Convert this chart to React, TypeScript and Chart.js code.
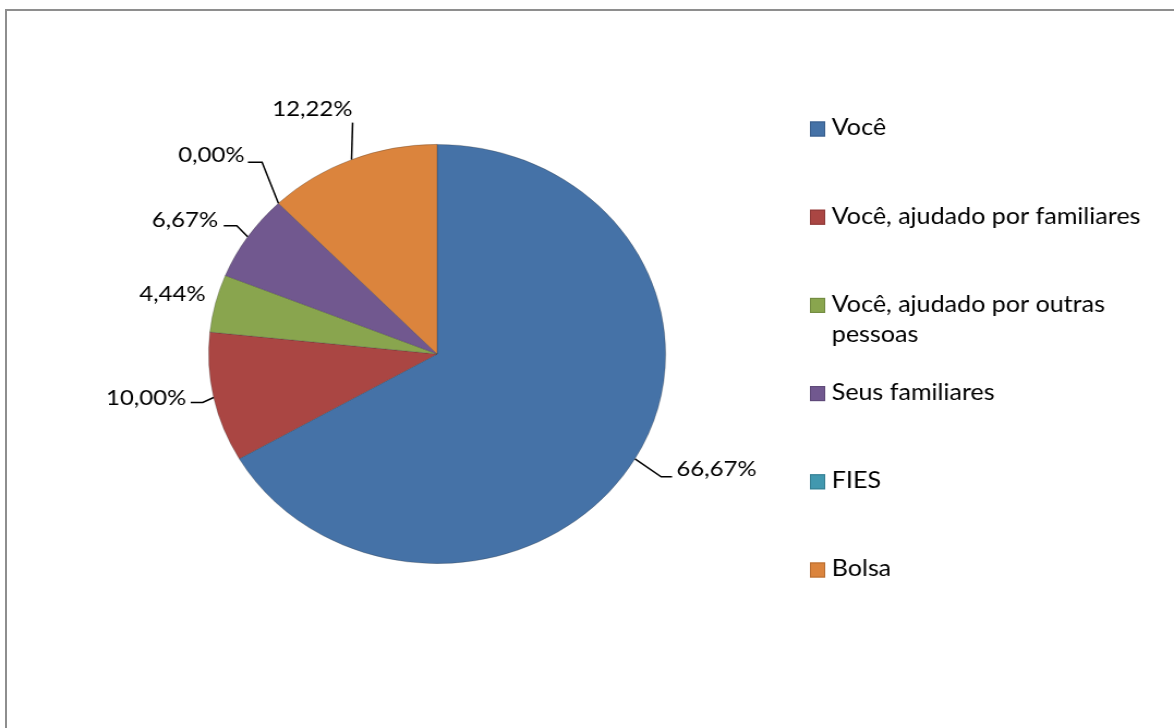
import React, { useEffect, useRef } from 'react';
import { Chart, registerables } from 'chart.js';

Chart.register(...registerables);

// ---- data ----
const categories = [
  'Você',
  'Você, ajudado por familiares',
  'Você, ajudado por outras pessoas',
  'Seus familiares',
  'FIES',
  'Bolsa',
];
const values = [66.67, 10.0, 4.44, 6.67, 0.0, 12.22];
const colors = ['#4572A7', '#AA4643', '#89A54E', '#71588F', '#4198AF', '#DB843D'];
const markerBorders = ['#3A5F8C', '#8E3A38', '#728A41', '#5E4977', '#367F92', '#B76E33'];

// ---- layout (style only) ----
const PAGE_W = 1174;
const PAGE_H = 728;
const STRETCH = 1.09;
const CANVAS_W = Math.round(PAGE_W / STRETCH);

// leader-line offsets from slice edge, and text anchor offsets (logical px)
const labelLayout: { line: number[][]; text: number[]; align: CanvasTextAlign }[] = [
  { line: [[24, 18], [34, 18]], text: [38, 10], align: 'left' },
  { line: [[-10, 5], [-21, 5]], text: [-25, 0], align: 'right' },
  { line: [], text: [-9, -9], align: 'right' },
  { line: [[-10, -11], [-22, -11]], text: [-27, -17], align: 'right' },
  { line: [[-15, -41], [-28, -41]], text: [-31, -48], align: 'right' },
  { line: [[1, -37]], text: [1, -51], align: 'right' },
];

const LABEL_FONT = '22px Lato';
const LEGEND_FONT = '23px Lato';

const fmt = (v: number) => v.toFixed(2).replace('.', ',') + '%';

const labelPlugin = {
  id: 'excelLabels',
  afterDraw(chart: any) {
    const ctx: CanvasRenderingContext2D = chart.ctx;
    const meta = chart.getDatasetMeta(0);
    ctx.save();
    ctx.font = LABEL_FONT;
    ctx.fillStyle = '#000';
    ctx.strokeStyle = '#000';
    ctx.lineWidth = 1.5;
    ctx.textBaseline = 'middle';
    meta.data.forEach((arc: any, i: number) => {
      const { x, y, startAngle, endAngle, outerRadius } = arc.getProps(
        ['x', 'y', 'startAngle', 'endAngle', 'outerRadius'],
        true
      );
      const mid = (startAngle + endAngle) / 2;
      const ex = x + Math.cos(mid) * outerRadius;
      const ey = y + Math.sin(mid) * outerRadius;
      const lay = labelLayout[i];
      if (lay.line.length) {
        ctx.beginPath();
        ctx.moveTo(ex, ey);
        lay.line.forEach((p) => ctx.lineTo(ex + p[0], ey + p[1]));
        ctx.stroke();
      }
      ctx.textAlign = lay.align;
      ctx.fillText(fmt(values[i]), ex + lay.text[0], ey + lay.text[1]);
    });
    ctx.restore();
  },
};

const legendPlugin = {
  id: 'excelLegend',
  afterDraw(chart: any) {
    const ctx: CanvasRenderingContext2D = chart.ctx;
    const markerX = 743;
    const markerW = 14;
    const markerH = 15;
    const textX = 763;
    const firstY = 128;
    const step = 88.2;
    const maxW = 300;
    const lineH = 30;
    ctx.save();
    ctx.font = LEGEND_FONT;
    ctx.textBaseline = 'middle';
    ctx.textAlign = 'left';
    categories.forEach((name, i) => {
      const cy = firstY + i * step;
      ctx.fillStyle = colors[i];
      ctx.fillRect(markerX, cy - markerH / 2 + 1, markerW, markerH);
      ctx.strokeStyle = markerBorders[i];
      ctx.lineWidth = 1;
      ctx.strokeRect(markerX + 0.5, cy - markerH / 2 + 1.5, markerW - 1, markerH - 1);
      // word wrap
      const words = name.split(' ');
      const lines: string[] = [];
      let cur = '';
      words.forEach((w) => {
        const test = cur ? cur + ' ' + w : w;
        if (ctx.measureText(test).width > maxW && cur) {
          lines.push(cur);
          cur = w;
        } else cur = test;
      });
      if (cur) lines.push(cur);
      ctx.fillStyle = '#000';
      lines.forEach((ln, j) => ctx.fillText(ln, textX, cy + j * lineH));
    });
    ctx.restore();
  },
};

export default function App() {
  const ref = useRef<HTMLCanvasElement | null>(null);
  useEffect(() => {
    if (!ref.current) return;
    const chart = new Chart(ref.current, {
      type: 'pie',
      data: {
        labels: categories,
        datasets: [
          {
            data: values,
            backgroundColor: colors,
            borderColor: 'rgba(40,40,40,0.35)',
            borderWidth: 0.75,
          },
        ],
      },
      options: {
        responsive: false,
        animation: false,
        layout: { padding: { left: 191, right: CANVAS_W - 611, top: 144, bottom: PAGE_H - 564 } },
        plugins: {
          legend: { display: false },
          tooltip: { enabled: false },
        },
      },
      plugins: [labelPlugin, legendPlugin],
    });
    return () => chart.destroy();
  }, []);

  return (
    <div
      style={{
        position: 'absolute',
        left: 0,
        top: 0,
        width: PAGE_W,
        height: PAGE_H,
        background: '#fff',
        overflow: 'hidden',
      }}
    >
      <canvas
        ref={ref}
        width={CANVAS_W}
        height={PAGE_H}
        style={{ position: 'absolute', left: 0, top: 0, width: PAGE_W + 'px', height: PAGE_H + 'px' }}
      />
      <div
        style={{
          position: 'absolute',
          left: 5,
          top: 9,
          width: PAGE_W - 5,
          height: PAGE_H - 9,
          borderLeft: '2px solid #8e8e8e',
          borderTop: '2px solid #8e8e8e',
          boxSizing: 'border-box',
          pointerEvents: 'none',
        }}
      />
    </div>
  );
}
